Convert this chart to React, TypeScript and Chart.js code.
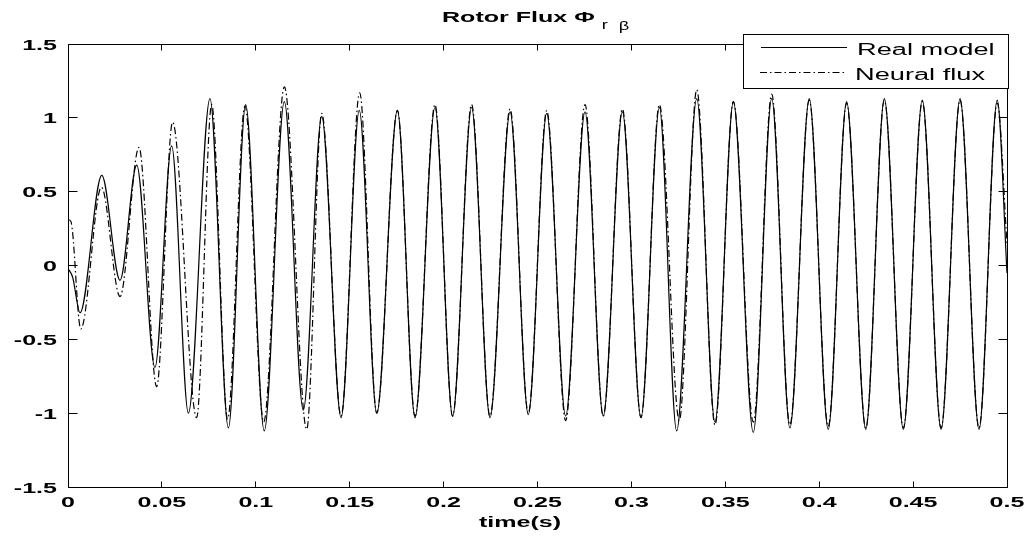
import React, { useEffect, useRef } from "react";
import { Chart, registerables } from "chart.js";

Chart.register(...registerables);

// ---- data (extrema and end points) ----
const realTime = [
  0, 0.0025, 0.0064, 0.018, 0.0277, 0.0366, 0.0463, 0.0552, 0.0641, 0.0756,
  0.0854, 0.0946, 0.1045, 0.1152, 0.1253, 0.1351, 0.1454, 0.1551, 0.1644, 0.1754,
  0.1848, 0.1954, 0.2048, 0.2149, 0.2247, 0.2354, 0.2451, 0.2549, 0.265, 0.2753,
  0.285, 0.2952, 0.3051, 0.3149, 0.3241, 0.3348, 0.3445, 0.3543, 0.3649, 0.3747,
  0.3844, 0.3947, 0.4048, 0.4146, 0.4248, 0.4347, 0.4448, 0.4549, 0.4649, 0.475,
  0.4851, 0.4948, 0.5,
];
const realFlux = [
  -0.02, -0.08, -0.32, 0.61, -0.1, 0.68, -0.69, 0.81, -1.0, 1.13,
  -1.1, 1.09, -1.12, 1.11, -0.98, 1.01, -1.03, 1.05, -1.0, 1.05,
  -1.03, 1.07, -1.02, 1.07, -1.03, 1.04, -1.01, 1.03, -1.02, 1.04,
  -1.02, 1.04, -1.03, 1.07, -1.12, 1.13, -1.06, 1.11, -1.13, 1.13,
  -1.1, 1.13, -1.11, 1.11, -1.11, 1.13, -1.11, 1.12, -1.11, 1.13,
  -1.11, 1.12, -0.05,
];
const neuralTime = [
  0, 0.0015, 0.0068, 0.0178, 0.0277, 0.0378, 0.0472, 0.0557, 0.0685, 0.0765,
  0.085, 0.0942, 0.1042, 0.1152, 0.1271, 0.1351, 0.1454, 0.1553, 0.1644, 0.1754,
  0.1848, 0.1954, 0.2048, 0.2149, 0.2247, 0.2354, 0.2451, 0.2549, 0.265, 0.2753,
  0.285, 0.2952, 0.3051, 0.3149, 0.3255, 0.3348, 0.3445, 0.3543, 0.3649, 0.3747,
  0.3844, 0.3947, 0.4048, 0.4146, 0.4248, 0.4347, 0.4448, 0.4549, 0.4649, 0.475,
  0.4851, 0.4948, 0.5,
];
const neuralFlux = [
  0.31, 0.3, -0.43, 0.53, -0.21, 0.8, -0.82, 0.97, -1.03, 1.09,
  -1.04, 1.08, -1.06, 1.21, -1.11, 1.03, -1.02, 1.17, -1.0, 1.05,
  -1.02, 1.09, -1.02, 1.09, -1.02, 1.06, -1.0, 1.05, -1.05, 1.09,
  -1.02, 1.06, -1.03, 1.09, -1.05, 1.19, -1.08, 1.11, -1.06, 1.16,
  -1.08, 1.12, -1.09, 1.1, -1.1, 1.12, -1.1, 1.11, -1.1, 1.12,
  -1.1, 1.1, 0.15,
];

const xTicks = [0, 0.05, 0.1, 0.15, 0.2, 0.25, 0.3, 0.35, 0.4, 0.45, 0.5];
const xTickLabels = ["0", "0.05", "0.1", "0.15", "0.2", "0.25", "0.3", "0.35", "0.4", "0.45", "0.5"];
const yTicks = [-1.5, -1, -0.5, 0, 0.5, 1, 1.5];
const yTickLabels = ["-1.5", "-1", "-0.5", "0", "0.5", "1", "1.5"];
const seriesNames = ["Real model", "Neural flux"];
const titleMain = "Rotor Flux Φ";
const titleSubA = "r";
const titleSubB = "β";
const xAxisTitle = "time(s)";

const FONT = '"Liberation Sans", Arial, Helvetica, sans-serif';
const DASHDOT = [7, 3, 1.5, 3];

function stretchedText(
  ctx: CanvasRenderingContext2D,
  text: string,
  x: number,
  y: number,
  font: string,
  sx: number,
  align: "left" | "center" | "right"
) {
  ctx.save();
  ctx.font = font;
  const w = ctx.measureText(text).width * sx;
  let left = x;
  if (align === "center") left = x - w / 2;
  else if (align === "right") left = x - w;
  ctx.translate(left, y);
  ctx.scale(sx, 1);
  ctx.textAlign = "left";
  ctx.textBaseline = "alphabetic";
  ctx.fillStyle = "#000";
  ctx.fillText(text, 0, 0);
  ctx.restore();
  return w;
}

const matlabDecor = {
  id: "matlabDecor",
  afterDraw(chart: any) {
    const ctx: CanvasRenderingContext2D = chart.ctx;
    const { left, right, top, bottom } = chart.chartArea;
    const xs = chart.scales.x;
    const ys = chart.scales.y;
    const L = Math.floor(left) + 0.5;
    const R = Math.floor(right) + 0.5;
    const T = Math.floor(top) + 0.5;
    const B = Math.floor(bottom) + 0.5;

    ctx.save();
    ctx.strokeStyle = "#000";
    ctx.lineWidth = 1;
    ctx.setLineDash([]);
    ctx.beginPath();
    ctx.rect(L, T, R - L, B - T);
    ctx.stroke();

    // inward ticks
    ctx.beginPath();
    xTicks.forEach((v) => {
      const px = Math.floor(xs.getPixelForValue(v)) + 0.5;
      ctx.moveTo(px, B);
      ctx.lineTo(px, B - 6);
      ctx.moveTo(px, T);
      ctx.lineTo(px, T + 6);
    });
    yTicks.forEach((v) => {
      const py = Math.floor(ys.getPixelForValue(v)) + 0.5;
      ctx.moveTo(L, py);
      ctx.lineTo(L + 9, py);
      ctx.moveTo(R, py);
      ctx.lineTo(R - 9, py);
    });
    ctx.stroke();
    ctx.restore();

    const tickFont = `bold 15px ${FONT}`;
    xTicks.forEach((v, i) => {
      const px = xs.getPixelForValue(v);
      stretchedText(ctx, xTickLabels[i], px, bottom + 19.5, tickFont, 1.67, "center");
    });
    yTicks.forEach((v, i) => {
      const py = ys.getPixelForValue(v);
      stretchedText(ctx, yTickLabels[i], left - 11, py + 5.5, tickFont, 1.67, "right");
    });

    // x axis title
    stretchedText(ctx, xAxisTitle, 520, 527, tickFont, 1.67, "center");

    // title
    const mainW = stretchedText(ctx, titleMain, 442, 22, `bold 15px ${FONT}`, 1.67, "left");
    stretchedText(ctx, titleSubA, 442 + mainW + 7, 29, `13px ${FONT}`, 1.4, "left");
    stretchedText(ctx, titleSubB, 442 + mainW + 24, 30, `13px ${FONT}`, 1.4, "left");

    // legend
    ctx.save();
    ctx.fillStyle = "#fff";
    ctx.fillRect(743.5, 34.5, 265, 54);
    ctx.strokeStyle = "#000";
    ctx.lineWidth = 1;
    ctx.strokeRect(743.5, 34.5, 265, 54);
    ctx.beginPath();
    ctx.moveTo(761, 47.5);
    ctx.lineTo(847, 47.5);
    ctx.stroke();
    ctx.setLineDash(DASHDOT);
    ctx.beginPath();
    ctx.moveTo(760, 72.5);
    ctx.lineTo(847, 72.5);
    ctx.stroke();
    ctx.restore();
    stretchedText(ctx, seriesNames[0], 857, 54.5, `16px ${FONT}`, 1.7, "left");
    stretchedText(ctx, seriesNames[1], 855, 79.5, `16px ${FONT}`, 1.7, "left");
  },
};

export default function App() {
  const canvasRef = useRef<HTMLCanvasElement | null>(null);

  useEffect(() => {
    document.body.style.margin = "0";
    document.body.style.background = "#fff";
    const canvas = canvasRef.current;
    if (!canvas) return;
    const realData = realTime.map((t, i) => ({ x: t, y: realFlux[i] }));
    const neuralData = neuralTime.map((t, i) => ({ x: t, y: neuralFlux[i] }));

    const chart = new Chart(canvas, {
      type: "line",
      data: {
        datasets: [
          {
            label: seriesNames[0],
            data: realData,
            borderColor: "#000",
            borderWidth: 1.2,
            pointRadius: 0,
            fill: false,
            cubicInterpolationMode: "monotone",
          },
          {
            label: seriesNames[1],
            data: neuralData,
            borderColor: "#000",
            borderWidth: 1.2,
            borderDash: DASHDOT,
            pointRadius: 0,
            fill: false,
            cubicInterpolationMode: "monotone",
          },
        ],
      },
      options: {
        responsive: false,
        animation: false,
        devicePixelRatio: 1,
        layout: { padding: { top: 44, right: 23, left: 0, bottom: 0 } },
        plugins: {
          legend: { display: false },
          title: { display: false },
          tooltip: { enabled: false },
        },
        events: [],
        scales: {
          x: {
            type: "linear",
            min: 0,
            max: 0.5,
            ticks: { display: false },
            grid: { display: false },
            border: { display: false },
            afterFit: (s: any) => {
              s.height = 51;
            },
          },
          y: {
            type: "linear",
            min: -1.5,
            max: 1.5,
            ticks: { display: false },
            grid: { display: false },
            border: { display: false },
            afterFit: (s: any) => {
              s.width = 68;
            },
          },
        },
      },
      plugins: [matlabDecor],
    } as any);

    return () => chart.destroy();
  }, []);

  return (
    <div style={{ width: 1030, height: 538, background: "#fff" }}>
      <canvas ref={canvasRef} width={1030} height={538} style={{ display: "block" }} />
    </div>
  );
}
